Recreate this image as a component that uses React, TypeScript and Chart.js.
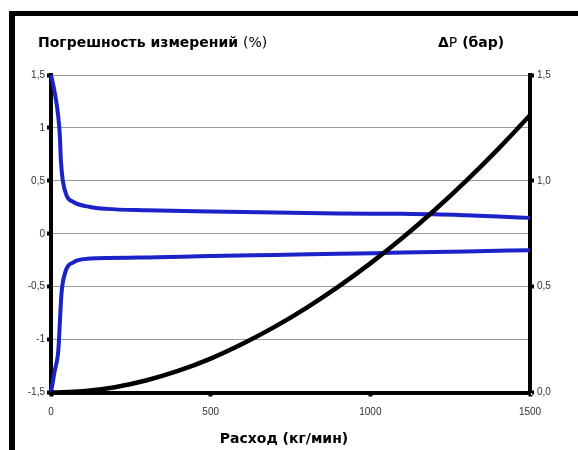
import React, { useEffect, useRef } from "react";
import { Chart, registerables } from "chart.js";

Chart.register(...registerables);

// Flow (kg/min) categories and measured values
const flowUpper = [0, 12, 23, 28, 31, 37, 49, 70, 122, 174, 300, 500, 700, 900, 1100, 1200, 1300, 1400, 1500];
const errUpper = [1.5, 1.33, 1.1, 0.91, 0.69, 0.5, 0.36, 0.3, 0.253, 0.235, 0.222, 0.21, 0.2, 0.192, 0.188, 0.185, 0.175, 0.162, 0.15];

const flowLower = [0, 12, 23, 28, 33, 44, 70, 122, 280, 500, 700, 900, 1100, 1300, 1500];
const errLower = [-1.5, -1.29, -1.1, -0.82, -0.56, -0.37, -0.27, -0.235, -0.225, -0.21, -0.2, -0.19, -0.178, -0.167, -0.155];

const flowDp = [0, 100, 200, 300, 400, 500, 600, 700, 800, 900, 1000, 1100, 1200, 1300, 1400, 1500];
const dpBar = [0, 0.006, 0.025, 0.058, 0.103, 0.16, 0.23, 0.31, 0.4, 0.5, 0.61, 0.73, 0.86, 1.0, 1.15, 1.31];

const leftTitle = "Погрешность измерений";
const leftUnit = "(%)";
const rightTitle = "(бар)";
const xTitle = "Расход (кг/мин)";

const pts = (xs: number[], ys: number[]) => xs.map((x, i) => ({ x, y: ys[i] }));

export default function App() {
  const ref = useRef<HTMLCanvasElement | null>(null);

  useEffect(() => {
    if (!ref.current) return;
    const tickFont = { family: "'Liberation Sans', Arial, sans-serif", size: 10 };
    const chart = new Chart(ref.current, {
      type: "line",
      data: {
        datasets: [
          {
            data: pts(flowDp, dpBar),
            yAxisID: "y2",
            borderColor: "#000000",
            borderWidth: 4.5,
            pointRadius: 0,
            tension: 0.4,
            clip: false,
          },
          {
            data: pts(flowUpper, errUpper),
            yAxisID: "y",
            borderColor: "#1b22c8",
            borderWidth: 4,
            pointRadius: 0,
            cubicInterpolationMode: "monotone",
            clip: false,
          },
          {
            data: pts(flowLower, errLower),
            yAxisID: "y",
            borderColor: "#1b22c8",
            borderWidth: 4,
            pointRadius: 0,
            cubicInterpolationMode: "monotone",
            clip: false,
          },
        ],
      },
      options: {
        animation: false,
        responsive: false,
        maintainAspectRatio: false,
        layout: { padding: { top: 75, left: 0, right: 0, bottom: 0 } },
        plugins: { legend: { display: false }, tooltip: { enabled: false } },
        scales: {
          x: {
            type: "linear",
            min: 0,
            max: 1500,
            ticks: {
              stepSize: 500,
              font: tickFont,
              color: "#333",
              padding: 10,
              callback: (v: any) => String(v),
            },
            grid: { drawOnChartArea: false, drawTicks: true, tickLength: 4, tickWidth: 4, tickColor: "#000" },
            border: { color: "#000", width: 4 },
            afterFit: (s: any) => { s.height = 57.5; },
          },
          y: {
            type: "linear",
            position: "left",
            min: -1.5,
            max: 1.5,
            ticks: {
              stepSize: 0.5,
              font: tickFont,
              color: "#333",
              padding: 2,
              callback: (v: any) => String(v).replace(".", ","),
            },
            grid: { color: "#9a9a9a", lineWidth: 1, drawTicks: true, tickLength: 4, tickWidth: 4, tickColor: "#000" },
            border: { color: "#000", width: 4 },
            afterFit: (s: any) => { s.width = 51; },
          },
          y2: {
            type: "linear",
            position: "right",
            min: 0,
            max: 1.5,
            ticks: {
              stepSize: 0.5,
              font: tickFont,
              color: "#333",
              padding: 3,
              callback: (v: any) => Number(v).toFixed(1).replace(".", ","),
            },
            grid: { drawOnChartArea: false, drawTicks: true, tickLength: 4, tickWidth: 4, tickColor: "#000" },
            border: { color: "#000", width: 4 },
            afterFit: (s: any) => { s.width = 48; },
          },
        },
      },
    } as any);
    return () => chart.destroy();
  }, []);

  const titleFont: React.CSSProperties = {
    position: "absolute",
    fontFamily: "'DejaVu Sans', Verdana, sans-serif",
    fontSize: 14,
    fontWeight: "bold",
    color: "#000",
    whiteSpace: "nowrap",
    lineHeight: "16px",
  };

  return (
    <div style={{ position: "absolute", left: 0, top: 0, width: 578, height: 450, overflow: "hidden", background: "#fff" }}>
      <div
        style={{
          position: "absolute",
          left: 9,
          top: 11,
          width: 700,
          height: 600,
          borderLeft: "6px solid #000",
          borderTop: "5px solid #000",
        }}
      />
      <canvas ref={ref} width={578} height={450} style={{ position: "absolute", left: 0, top: 0, width: 578, height: 450 }} />
      <div style={{ ...titleFont, left: 38, top: 34 }}>
        {leftTitle} <span style={{ fontWeight: "normal" }}>{leftUnit}</span>
      </div>
      <div style={{ ...titleFont, left: 438, top: 34 }}>
        Δ<span style={{ fontWeight: "normal" }}>P</span> {rightTitle}
      </div>
      <div style={{ ...titleFont, left: 84, width: 400, textAlign: "center", top: 430 }}>{xTitle}</div>
    </div>
  );
}
